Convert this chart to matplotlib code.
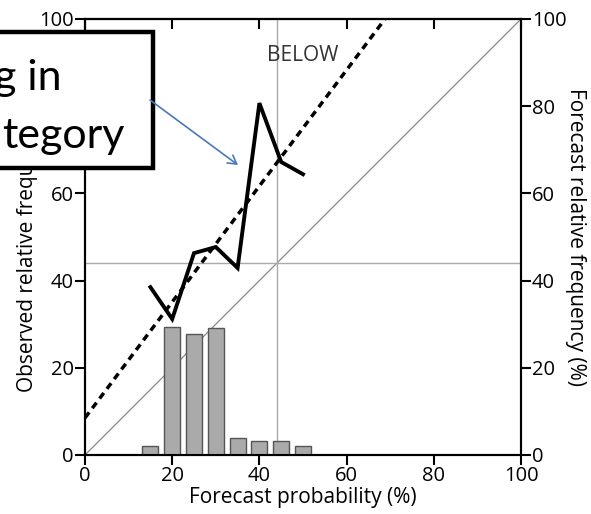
import matplotlib
matplotlib.use("Agg")
import matplotlib.pyplot as plt
from matplotlib.patches import Rectangle, FancyArrowPatch

# Data
forecast_prob = [15, 20, 25, 30, 35, 40, 45, 50]
observed_freq = [38.5, 31.2, 46.3, 47.7, 42.9, 80.7, 67.2, 64.4]
forecast_freq = [2.1, 29.4, 27.7, 29.2, 4.0, 3.3, 3.3, 2.1]
fit_intercept = 8.5
fit_slope = 1.33
climatology = 44
ticks = [0, 20, 40, 60, 80, 100]

plt.rcParams['font.family'] = ['Open Sans', 'DejaVu Sans']

fig = plt.figure(figsize=(5.91, 5.14), dpi=100)
ax = fig.add_axes([85/591, 1 - 455/514, 436/591, 436/514])
ax2 = ax.twinx()

# histogram bars (right axis)
ax2.bar(forecast_prob, forecast_freq, width=3.7, color='#aaaaaa', edgecolor='#555555', linewidth=1.0, zorder=2)

# reference lines
ax.plot([0, 100], [0, 100], color='#888888', lw=0.9, zorder=1)
ax.axvline(climatology, color='#aaaaaa', lw=1.0, zorder=1)
ax.axhline(climatology, color='#aaaaaa', lw=1.0, zorder=1)

# fitted dashed line
xs = [0, 100]
ax.plot(xs, [fit_intercept + fit_slope * x for x in xs], color='black', lw=2.5,
        linestyle=(0, (2.0, 1.5)), zorder=3)

# reliability curve
ax.plot(forecast_prob, observed_freq, color='black', lw=2.8, zorder=4, solid_joinstyle='miter')

ax.text(50, 91.7, 'BELOW', ha='center', va='center', fontsize=15, color='#333333')

for a in (ax, ax2):
    a.set_xlim(0, 100)
    a.set_ylim(0, 100)
    for s in a.spines.values():
        s.set_linewidth(1.5)
ax.set_xticks(ticks)
ax.set_yticks(ticks)
ax2.set_yticks(ticks)
ax.tick_params(axis='both', direction='out', length=7, width=1.5, labelsize=14.5, pad=1)
ax2.tick_params(axis='y', direction='out', length=7, width=1.5, labelsize=14.5, pad=1)

top = ax.secondary_xaxis('top')
top.set_xticks(ticks)
top.tick_params(direction='in', length=7, width=1.5, labeltop=False)
top.spines['top'].set_linewidth(1.5)

ax.set_xlabel('Forecast probability (%)', fontsize=15, labelpad=1)
ax.set_ylabel('Observed relative frequency (%)', fontsize=15, labelpad=1)
ax2.set_ylabel('Forecast relative frequency (%)', fontsize=15, rotation=270, labelpad=14)

# annotation box (clipped at the figure's left edge)
fig.patches.append(Rectangle((-200/591, 1 - 168/514), 353/591, 136/514, transform=fig.transFigure,
                             facecolor='white', edgecolor='black', linewidth=3.2, zorder=10))
fig.text(-6 / 591, 1 - 90/514, 'g in', fontsize=31, family=['Lato', 'DejaVu Sans'],
         ha='left', va='baseline', zorder=11)
fig.text(2 / 591, 1 - 148/514, 'tegory', fontsize=31, family=['Lato', 'DejaVu Sans'],
         ha='left', va='baseline', zorder=11)
arrow = FancyArrowPatch((150/591, 1 - 100/514), (238/591, 1 - 165/514), transform=fig.transFigure,
                        arrowstyle='->,head_length=6,head_width=3.5', color='#4a78b8', lw=1.2,
                        zorder=11, shrinkA=0, shrinkB=0)
fig.patches.append(arrow)

fig.savefig('out.png', dpi=100)
